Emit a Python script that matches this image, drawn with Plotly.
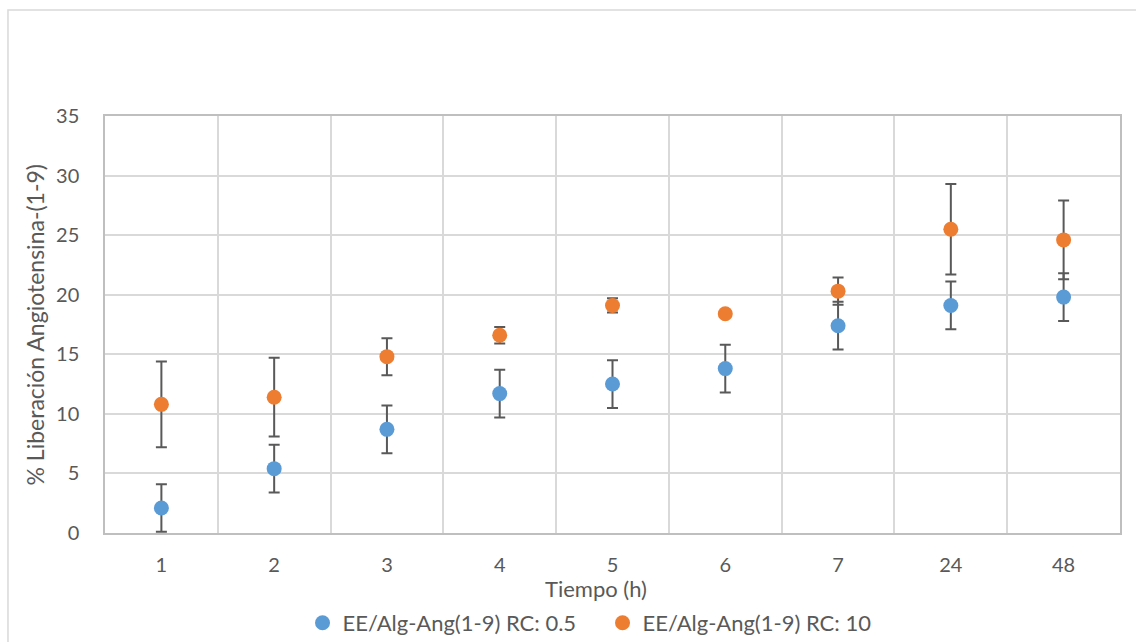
import plotly.graph_objects as go

categories = ["1", "2", "3", "4", "5", "6", "7", "24", "48"]
rc05_values = [2.1, 5.4, 8.7, 11.7, 12.5, 13.8, 17.4, 19.1, 19.8]
rc05_errors = [2.0, 2.0, 2.0, 2.0, 2.0, 2.0, 2.0, 2.0, 2.0]
rc10_values = [10.8, 11.4, 14.8, 16.6, 19.1, 18.4, 20.3, 25.5, 24.6]
rc10_errors = [3.6, 3.3, 1.55, 0.7, 0.6, 0.2, 1.15, 3.8, 3.3]

name05 = "EE/Alg-Ang(1-9) RC: 0.5"
name10 = "EE/Alg-Ang(1-9) RC: 10"

FONT = "Lato, 'Open Sans', sans-serif"
TXT = "#595959"

fig = go.Figure()
for name, vals, errs, col in [
    (name05, rc05_values, rc05_errors, "#5B9BD5"),
    (name10, rc10_values, rc10_errors, "#ED7D31"),
]:
    fig.add_trace(go.Scatter(
        x=categories, y=vals, mode="markers", name=name,
        marker=dict(size=15, color=col),
        error_y=dict(type="data", array=errs, visible=True,
                     color="#595959", thickness=2, width=5.5),
    ))

fig.update_layout(
    width=1136, height=642,
    margin=dict(l=105, r=16, t=116, b=108.5, autoexpand=False),
    paper_bgcolor="white", plot_bgcolor="white",
    font=dict(family=FONT, color=TXT, size=20),
    showlegend=True,
    legend=dict(orientation="h", xref="container", yref="container",
                x=0.5304, xanchor="center", y=0.0296, yanchor="middle",
                font=dict(size=22, color=TXT), itemsizing="trace",
                entrywidth=255, entrywidthmode="pixels",
                bgcolor="rgba(0,0,0,0)"),
    xaxis=dict(type="category", categoryorder="array", categoryarray=categories,
               tickson="boundaries", showgrid=True, gridcolor="#D9D9D9", gridwidth=1.5,
               showline=True, linecolor="#BFBFBF", linewidth=1.5, mirror=True,
               ticks="", ticklabelstandoff=13, tickfont=dict(size=20, color=TXT),
               range=[-0.5, 8.5]),
    yaxis=dict(range=[0, 35], dtick=5, tick0=0, showgrid=True, gridcolor="#D9D9D9",
               gridwidth=1.5, showline=True, linecolor="#BFBFBF", linewidth=1.5,
               mirror=True, zeroline=False, ticks="", ticklabelstandoff=20,
               tickfont=dict(size=20, color=TXT)),
    annotations=[
        dict(text="Tiempo (h)", xref="paper", yref="paper", x=0.4837, y=-0.134,
             xanchor="center", yanchor="middle", showarrow=False,
             font=dict(size=22, color=TXT, family=FONT)),
        dict(text="% Liberación Angiotensina-(1-9)", xref="paper", yref="paper",
             x=-0.069, y=0.5, xanchor="center", yanchor="middle", textangle=-90,
             showarrow=False, font=dict(size=23, color=TXT, family=FONT)),
    ],
    shapes=[
        dict(type="rect", xref="paper", yref="paper", x0=-0.0956, y0=-0.35,
             x1=1.03, y1=1.2539, line=dict(color="#D9D9D9", width=1.5),
             fillcolor="rgba(0,0,0,0)", layer="below"),
    ],
)

fig.write_html("out.html")
